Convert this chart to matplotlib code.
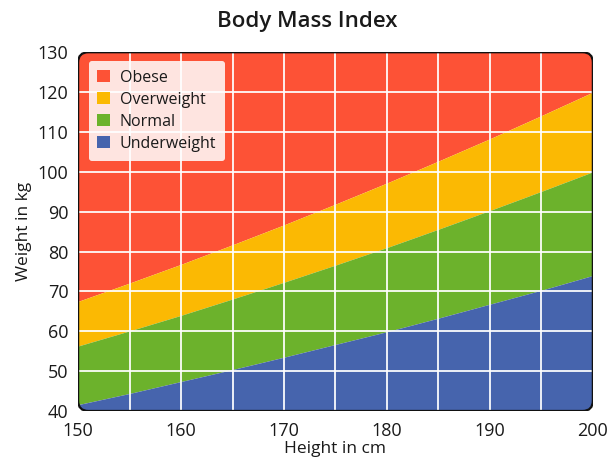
import matplotlib.pyplot as plt
import matplotlib.patches as patches
import numpy as np

# Boundary weights (kg) at every 5 cm
height = [150, 155, 160, 165, 170, 175, 180, 185, 190, 195, 200]
under_top = [41.6, 44.4, 47.4, 50.4, 53.5, 56.7, 59.9, 63.3, 66.8, 70.3, 74.0]
normal_top = [56.3, 60.1, 64.0, 68.1, 72.3, 76.6, 81.0, 85.6, 90.3, 95.1, 100.0]
over_top = [67.5, 72.1, 76.8, 81.7, 86.7, 91.9, 97.2, 102.7, 108.3, 114.1, 120.0]

labels = ["Obese", "Overweight", "Normal", "Underweight"]
colors = ["#fd5236", "#fbb903", "#6cb22c", "#4664ad"]

x_ticks = [150, 160, 170, 180, 190, 200]
y_ticks = [40, 50, 60, 70, 80, 90, 100, 110, 120, 130]

plt.rcParams['font.family'] = ['Open Sans', 'DejaVu Sans']
text = "#1a1a1a"

fig = plt.figure(figsize=(6.15, 4.57), dpi=100)
ax = fig.add_axes([0.127, 0.1007, 0.837, 0.785])

x = np.array(height)
lo, hi = 40, 130
h_obese = ax.fill_between(x, over_top, hi, color=colors[0], lw=0, zorder=1)
h_over = ax.fill_between(x, normal_top, over_top, color=colors[1], lw=0, zorder=1)
h_norm = ax.fill_between(x, under_top, normal_top, color=colors[2], lw=0, zorder=1)
h_under = ax.fill_between(x, lo, under_top, color=colors[3], lw=0, zorder=1)

ax.set_xlim(150, 200)
ax.set_ylim(lo, hi)

# rounded frame
frame = patches.FancyBboxPatch((0, 0), 1, 1, boxstyle="round,pad=0,rounding_size=0.02",
                               mutation_aspect=515/359, transform=ax.transAxes,
                               facecolor='none', edgecolor='#111111', linewidth=1.6, zorder=5)
ax.add_patch(frame)
clip = patches.FancyBboxPatch((0, 0), 1, 1, boxstyle="round,pad=0,rounding_size=0.02",
                              mutation_aspect=515/359, transform=ax.transAxes,
                              facecolor='none', edgecolor='none')
ax.add_patch(clip)
for h in [h_obese, h_over, h_norm, h_under]:
    h.set_clip_path(clip)

for s in ax.spines.values():
    s.set_visible(False)

ax.set_xticks(x_ticks)
ax.set_xticks([155, 165, 175, 185, 195], minor=True)
ax.set_yticks(y_ticks)
ax.tick_params(which='both', length=0, labelsize=13, colors=text)
ax.tick_params(axis='x', pad=8)
ax.tick_params(axis='y', pad=7)
ax.grid(True, which='both', axis='x', color='white', linewidth=1.4, alpha=0.9, zorder=2)
ax.grid(True, which='major', axis='y', color='white', linewidth=1.4, alpha=0.9, zorder=2)
ax.set_axisbelow(False)

ax.set_xlabel("Height in cm", fontsize=12.5, color=text, labelpad=1)
ax.set_ylabel("Weight in kg", fontsize=12.5, color=text, labelpad=4)
fig.text(0.5, 0.952, "Body Mass Index", fontsize=16, fontweight='semibold', color=text,
         ha='center', va='center')

handles = [patches.Patch(facecolor=c, edgecolor='none', label=l) for c, l in zip(colors, labels)]
leg = ax.legend(handles=handles, loc='upper left', bbox_to_anchor=(0.005, 0.998),
                fontsize=11.5, frameon=True, fancybox=True, framealpha=0.85,
                facecolor='white', edgecolor='none', handlelength=0.8, handleheight=0.8,
                handletextpad=0.6, labelspacing=0.38, borderpad=0.55)
leg.set_zorder(6)
for t in leg.get_texts():
    t.set_color(text)

plt.savefig("out.png", dpi=100)
